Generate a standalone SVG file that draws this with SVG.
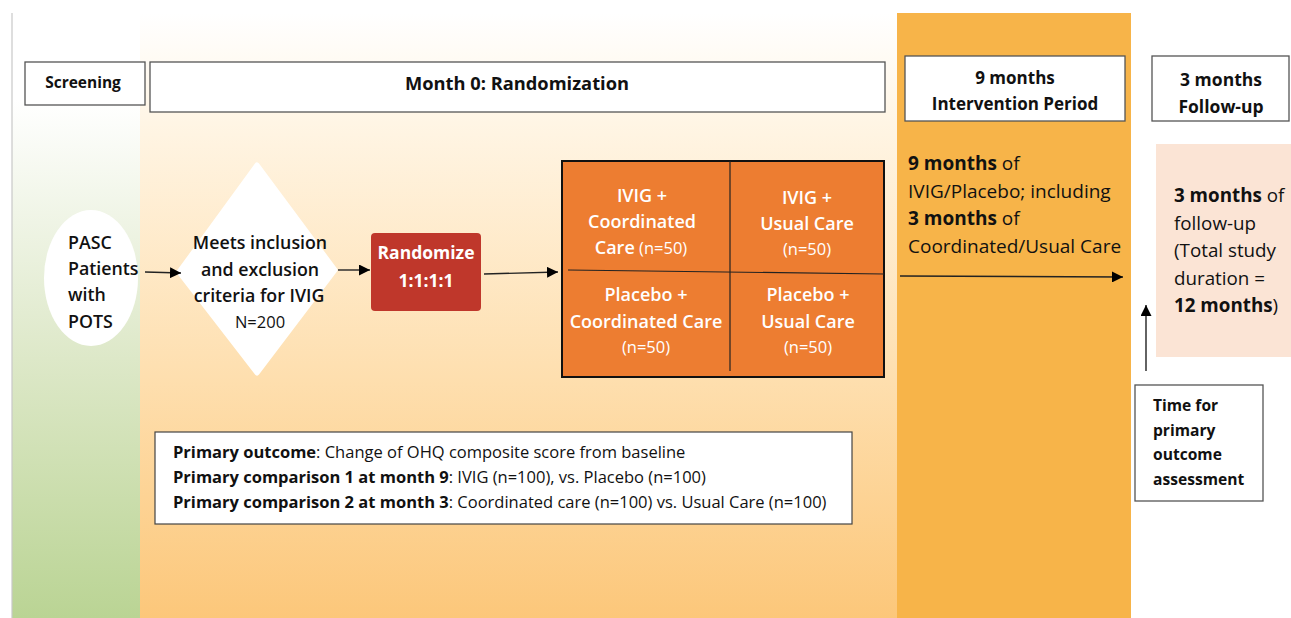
<svg xmlns="http://www.w3.org/2000/svg" width="1291" height="618" viewBox="0 0 1291 618">
<defs>
<linearGradient id="gOrange" x1="0" y1="13" x2="0" y2="618" gradientUnits="userSpaceOnUse">
<stop offset="0" stop-color="#ffffff"/>
<stop offset="0.2" stop-color="#fff4e2"/>
<stop offset="0.6" stop-color="#fedfaf"/>
<stop offset="1" stop-color="#fcc77a"/>
</linearGradient>
<linearGradient id="gGreen" x1="0" y1="100" x2="0" y2="618" gradientUnits="userSpaceOnUse">
<stop offset="0" stop-color="#ffffff"/>
<stop offset="0.5" stop-color="#dde8c8"/>
<stop offset="1" stop-color="#bad494"/>
</linearGradient>
<marker id="arr" viewBox="0 0 10 10" refX="10" refY="5" markerWidth="11" markerHeight="11" markerUnits="userSpaceOnUse" orient="auto">
<path d="M0,0 L10,5 L0,10 z" fill="#000"/>
</marker>
</defs>
<style>
.hdr{fill:#fff;stroke:#555;stroke-width:1.3}
.t{font-family:"Open Sans","DejaVu Sans",sans-serif;fill:#111}
.b{font-weight:700}
.sb{font-weight:600}
.w{fill:#fff}
.mid{text-anchor:middle}
.ln{stroke:#222;stroke-width:1.4;fill:none}
</style>
<rect x="0" y="0" width="1291" height="618" fill="#fff"/>
<g id="backgrounds">
<rect x="12" y="13" width="128" height="605" fill="url(#gGreen)"/>
<rect x="140" y="13" width="757" height="605" fill="url(#gOrange)"/>
<rect x="897" y="13" width="234" height="605" fill="#f7b449"/>
<line x1="12" y1="13" x2="12" y2="618" stroke="#c8c8c8" stroke-width="1.2"/>
</g>
<g id="hdr-screening">
<rect class="hdr" x="25" y="62" width="120" height="43"/>
<text class="t b mid" x="83" y="88" font-size="15.5">Screening</text>
</g>
<g id="hdr-month0">
<rect class="hdr" x="150" y="62" width="735" height="50"/>
<text class="t b mid" x="517" y="90" font-size="18.3">Month 0: Randomization</text>
</g>
<g id="hdr-intervention">
<rect class="hdr" x="905" y="56" width="220" height="65"/>
<text class="t b mid" x="1015" y="84" font-size="17">9 months</text>
<text class="t b mid" x="1015" y="110" font-size="17">Intervention Period</text>
</g>
<g id="hdr-followup">
<rect class="hdr" x="1152" y="56" width="137" height="65"/>
<text class="t b mid" x="1221" y="86" font-size="17.5">3 months</text>
<text class="t b mid" x="1221" y="113" font-size="17.5">Follow-up</text>
</g>
<g id="node-pasc">
<ellipse cx="91" cy="278" rx="47" ry="68" fill="#fff"/>
<text class="t sb" x="68" y="249" font-size="17.8">PASC</text>
<text class="t sb" x="68" y="275" font-size="17.8">Patients</text>
<text class="t sb" x="68" y="301" font-size="17.8">with</text>
<text class="t sb" x="68" y="328" font-size="17.8">POTS</text>
</g>
<g id="node-criteria">
<path d="M257,165 L335,270 L257,373 L179,272 Z" fill="#fff" stroke="#fff" stroke-width="5" stroke-linejoin="round"/>
<text class="t sb mid" x="260" y="249" font-size="17.8">Meets inclusion</text>
<text class="t sb mid" x="260" y="276" font-size="17.8">and exclusion</text>
<text class="t sb mid" x="259" y="302" font-size="17.8">criteria for IVIG</text>
<text class="t mid" x="260" y="328" font-size="16.5">N=200</text>
</g>
<g id="node-randomize">
<rect x="371" y="233" width="110" height="78" rx="4" fill="#bf372b"/>
<text class="t b mid w" x="426" y="259" font-size="17.5">Randomize</text>
<text class="t b mid w" x="426" y="287" font-size="17.5">1:1:1:1</text>
</g>
<g id="node-arms">
<rect x="562" y="161" width="322" height="216" fill="#ed7d31" stroke="#111" stroke-width="2"/>
<line x1="730" y1="161" x2="730" y2="371" stroke="#222" stroke-width="1.2"/>
<line x1="568" y1="270" x2="884" y2="274" stroke="#222" stroke-width="1.2"/>
<text class="t sb mid w" x="642" y="202" font-size="18">IVIG +</text>
<text class="t sb mid w" x="642" y="228" font-size="18">Coordinated</text>
<text class="t mid w" x="641" y="254" font-size="18"><tspan font-weight="600">Care</tspan><tspan font-size="16.5"> (n=50)</tspan></text>
<text class="t sb mid w" x="807" y="204" font-size="18">IVIG +</text>
<text class="t sb mid w" x="807" y="230" font-size="18">Usual Care</text>
<text class="t mid w" x="807" y="255" font-size="16.5">(n=50)</text>
<text class="t sb mid w" x="646" y="301" font-size="18">Placebo +</text>
<text class="t sb mid w" x="646" y="328" font-size="18">Coordinated Care</text>
<text class="t mid w" x="646" y="353" font-size="16.5">(n=50)</text>
<text class="t sb mid w" x="808" y="301" font-size="18">Placebo +</text>
<text class="t sb mid w" x="808" y="328" font-size="18">Usual Care</text>
<text class="t mid w" x="808" y="353" font-size="16.5">(n=50)</text>
</g>
<g id="node-intervention-text">
<text class="t" x="908" y="170" font-size="19"><tspan font-weight="700">9 months</tspan> of</text>
<text class="t" x="908" y="198" font-size="19">IVIG/Placebo; including</text>
<text class="t" x="908" y="225" font-size="19"><tspan font-weight="700">3 months</tspan> of</text>
<text class="t" x="908" y="253" font-size="19">Coordinated/Usual Care</text>
</g>
<g id="node-followup">
<rect x="1156" y="144" width="135" height="213" fill="#fbe4d5"/>
<text class="t" x="1174" y="202" font-size="18.8"><tspan font-weight="700">3 months</tspan> of</text>
<text class="t" x="1174" y="230" font-size="18.8">follow-up</text>
<text class="t" x="1174" y="257" font-size="18.8">(Total study</text>
<text class="t" x="1174" y="285" font-size="18.8">duration =</text>
<text class="t" x="1174" y="312" font-size="18.8"><tspan font-weight="700">12 months</tspan>)</text>
</g>
<g id="node-assessment">
<rect x="1135" y="385" width="128" height="116" fill="#fff" stroke="#555" stroke-width="1.3"/>
<text class="t b" x="1153" y="411" font-size="15.6">Time for</text>
<text class="t b" x="1153" y="436" font-size="15.6">primary</text>
<text class="t b" x="1153" y="460" font-size="15.6">outcome</text>
<text class="t b" x="1153" y="485" font-size="15.6">assessment</text>
</g>
<g id="node-outcome">
<rect x="155" y="432" width="697" height="92" fill="#fff" stroke="#444" stroke-width="1.2"/>
<text class="t" x="173" y="458" font-size="16.5"><tspan font-weight="700">Primary outcome</tspan>: Change of OHQ composite score  from baseline</text>
<text class="t" x="173" y="483" font-size="16.5"><tspan font-weight="700">Primary comparison 1 at month 9</tspan>: IVIG (n=100), vs. Placebo (n=100)</text>
<text class="t" x="173" y="508" font-size="16.5"><tspan font-weight="700">Primary comparison 2 at month 3</tspan>: Coordinated care (n=100) vs. Usual Care (n=100)</text>
</g>
<g id="connectors">
<line class="ln" x1="145" y1="272" x2="181" y2="273" marker-end="url(#arr)"/>
<line class="ln" x1="338" y1="270" x2="370" y2="270" marker-end="url(#arr)"/>
<line class="ln" x1="484" y1="274" x2="558" y2="272" marker-end="url(#arr)"/>
<line class="ln" x1="900" y1="276" x2="1123" y2="277" marker-end="url(#arr)"/>
<line class="ln" x1="1146" y1="371" x2="1146" y2="305" marker-end="url(#arr)"/>
</g>
</svg>
